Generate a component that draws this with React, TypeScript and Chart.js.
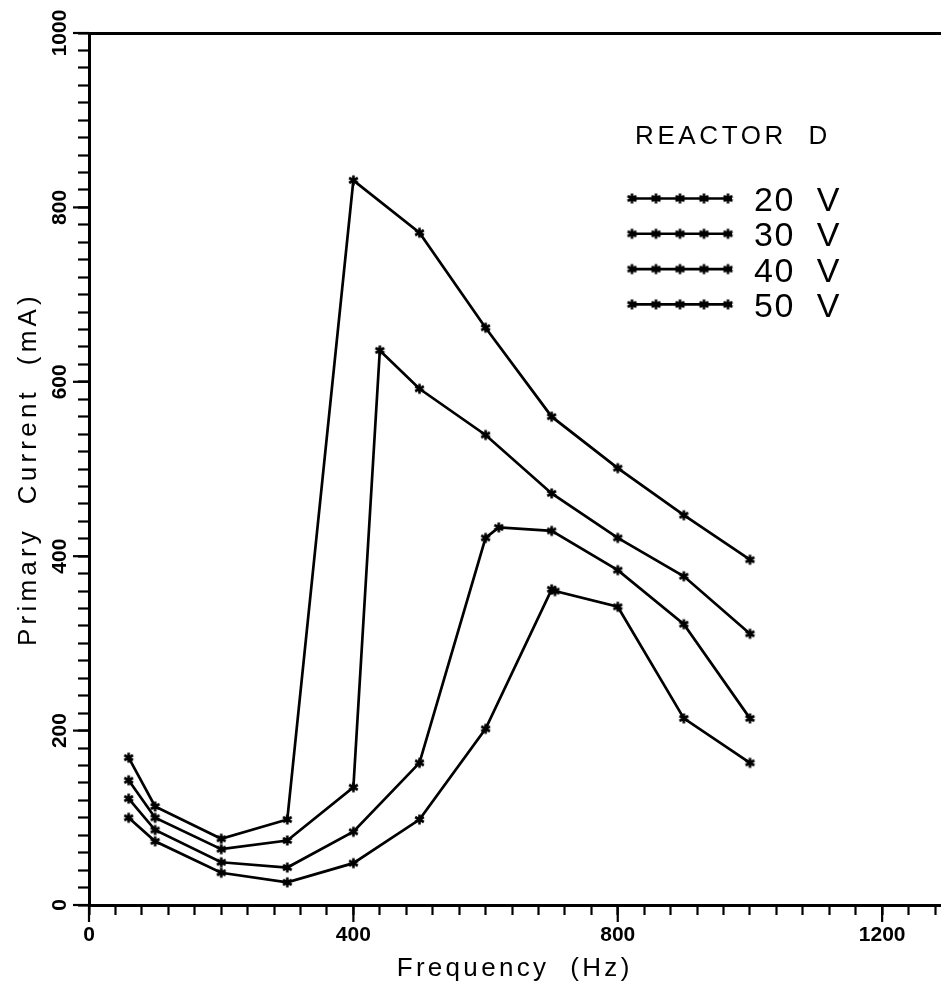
import React, { useEffect, useRef } from 'react';
import { Chart, registerables } from 'chart.js';

Chart.register(...registerables);

// ---- data ----
const freq20 = [60, 100, 200, 300, 400, 500, 600, 700, 705, 800, 900, 1000];
const current20 = [100, 73, 37, 26, 48, 98, 202, 362, 360, 342, 214, 163];
const freq30 = [60, 100, 200, 300, 400, 500, 600, 620, 700, 800, 900, 1000];
const current30 = [122, 86, 49, 43, 84, 163, 421, 433, 429, 384, 322, 214];
const freq40 = [60, 100, 200, 300, 400, 440, 500, 600, 700, 800, 900, 1000];
const current40 = [143, 100, 64, 74, 135, 636, 592, 539, 472, 421, 377, 311];
const freq50 = [60, 100, 200, 300, 400, 500, 600, 700, 800, 900, 1000];
const current50 = [169, 113, 76, 98, 831, 771, 662, 560, 501, 447, 396];

const seriesLabels = ['20  V', '30  V', '40  V', '50  V'];
const legendTitle = 'REACTOR  D';
const xTitle = 'Frequency  (Hz)';
const yTitle = 'Primary  Current  (mA)';
const xMajorTicks = [0, 400, 800, 1200];
const yMajorTicks = [0, 200, 400, 600, 800, 1000];
const X_MIN = 0;
const X_MAX = 1288;
const X_MINOR_STEP = 40;
const Y_MIN = 0;
const Y_MAX = 1000;
const Y_MINOR_STEP = 20;

const FONT = '"Liberation Sans", Arial, Helvetica, sans-serif';

function makeStar(): HTMLCanvasElement {
  const c = document.createElement('canvas');
  c.width = 13;
  c.height = 13;
  const g = c.getContext('2d')!;
  g.strokeStyle = '#000';
  g.lineWidth = 2.6;
  g.lineCap = 'butt';
  const r = 5;
  const m = 6.5;
  for (let k = 0; k < 3; k++) {
    const a = Math.PI / 2 + (k * Math.PI) / 3;
    g.beginPath();
    g.moveTo(m + r * Math.cos(a), m + r * Math.sin(a));
    g.lineTo(m - r * Math.cos(a), m - r * Math.sin(a));
    g.stroke();
  }
  g.beginPath();
  g.arc(m, m, 2.6, 0, Math.PI * 2);
  g.fillStyle = '#000';
  g.fill();
  return c;
}

function stepTicks(min: number, max: number, step: number) {
  const out: { value: number }[] = [];
  for (let v = min; v <= max + 1e-9; v += step) out.push({ value: v });
  return out;
}

function patchTitle(scale: any, spacing: string) {
  if (!scale || scale.__lsPatched) return;
  const orig = scale.drawTitle.bind(scale);
  scale.drawTitle = () => {
    const ctx = scale.ctx as any;
    const prev = ctx.letterSpacing;
    ctx.letterSpacing = spacing;
    orig();
    ctx.letterSpacing = prev;
  };
  scale.__lsPatched = true;
}

export default function App() {
  const ref = useRef<HTMLCanvasElement | null>(null);

  useEffect(() => {
    document.body.style.margin = '0';
    const canvas = ref.current;
    if (!canvas) return;
    const star = makeStar();

    const mk = (xs: number[], ys: number[], label: string) => ({
      label,
      data: xs.map((x, i) => ({ x, y: ys[i] })),
      borderColor: '#000',
      backgroundColor: '#000',
      borderWidth: 2.7,
      pointStyle: star as any,
      pointRadius: 5,
      pointHoverRadius: 5,
      tension: 0,
      fill: false,
    });

    const plotter = {
      id: 'plotter',
      beforeDraw(chart: any) {
        patchTitle(chart.scales.x, '3.3px');
        patchTitle(chart.scales.y, '4.2px');
      },
      afterDraw(chart: any) {
        const ctx = chart.ctx as CanvasRenderingContext2D;
        const xs = chart.scales.x;
        const ys = chart.scales.y;
        ctx.save();
        ctx.strokeStyle = '#000';
        ctx.fillStyle = '#000';
        // longer major tick marks
        ctx.lineWidth = 2.2;
        xMajorTicks.forEach((v) => {
          const px = xs.getPixelForValue(v);
          ctx.beginPath();
          ctx.moveTo(px, xs.top);
          ctx.lineTo(px, xs.top + 17);
          ctx.stroke();
        });
        yMajorTicks.forEach((v) => {
          const py = ys.getPixelForValue(v);
          ctx.beginPath();
          ctx.moveTo(ys.right - 16, py);
          ctx.lineTo(ys.right, py);
          ctx.stroke();
        });

        // legend
        ctx.font = `26px ${FONT}`;
        ctx.textBaseline = 'alphabetic';
        ctx.textAlign = 'left';
        (ctx as any).letterSpacing = '3.6px';
        ctx.fillText(legendTitle, 635, 144);
        (ctx as any).letterSpacing = '1.5px';
        ctx.font = `34px ${FONT}`;
        chart.data.datasets.forEach((ds: any, i: number) => {
          const y = 198.5 + i * 35.3;
          ctx.lineWidth = 2.6;
          ctx.beginPath();
          ctx.moveTo(630, y);
          ctx.lineTo(732, y);
          ctx.stroke();
          for (let k = 0; k < 5; k++) {
            ctx.drawImage(star, 632 + k * 24 - 6.5, y - 6.5);
          }
          ctx.fillText(ds.label, 754, y + 12.4);
        });
        ctx.restore();
      },
    };

    const chart = new Chart(canvas, {
      type: 'line',
      data: {
        datasets: [
          mk(freq20, current20, seriesLabels[0]),
          mk(freq30, current30, seriesLabels[1]),
          mk(freq40, current40, seriesLabels[2]),
          mk(freq50, current50, seriesLabels[3]),
        ],
      },
      options: {
        animation: false,
        responsive: false,
        devicePixelRatio: 1,
        maintainAspectRatio: false,
        layout: { padding: { top: 33, left: 0, right: 0, bottom: 0 } },
        plugins: {
          legend: { display: false },
          tooltip: { enabled: false },
        },
        scales: {
          x: {
            type: 'linear',
            position: 'bottom',
            min: X_MIN,
            max: X_MAX,
            afterBuildTicks: (s: any) => {
              s.ticks = stepTicks(X_MIN, X_MAX, X_MINOR_STEP);
            },
            afterFit: (s: any) => {
              s.height = 84;
              s.paddingLeft = 0;
              s.paddingRight = 0;
            },
            ticks: {
              autoSkip: false,
              maxRotation: 0,
              minRotation: 0,
              padding: 8,
              color: '#000',
              font: { family: FONT, size: 21, weight: 'bold' },
              callback: (v: any) => (xMajorTicks.includes(Number(v)) ? String(v) : ''),
            },
            grid: {
              drawOnChartArea: false,
              drawTicks: true,
              tickLength: 10,
              tickWidth: 2.2,
              tickColor: '#000',
              color: '#000',
            },
            border: { display: true, color: '#000', width: 3 },
            title: {
              display: true,
              text: xTitle,
              color: '#000',
              font: { family: FONT, size: 26, weight: 'normal' },
              padding: { top: 0, bottom: 5 },
            },
          },
          xTop: {
            type: 'linear',
            position: 'top',
            min: X_MIN,
            max: X_MAX,
            afterFit: (s: any) => {
              s.height = 0;
              s.paddingLeft = 0;
              s.paddingRight = 0;
            },
            ticks: { display: false },
            grid: { display: false, drawTicks: false },
            border: { display: true, color: '#000', width: 3 },
          },
          y: {
            type: 'linear',
            position: 'left',
            min: Y_MIN,
            max: Y_MAX,
            afterBuildTicks: (s: any) => {
              s.ticks = stepTicks(Y_MIN, Y_MAX, Y_MINOR_STEP);
            },
            afterFit: (s: any) => {
              s.width = 89;
              s.paddingTop = 0;
              s.paddingBottom = 0;
            },
            ticks: {
              autoSkip: false,
              minRotation: 90,
              maxRotation: 90,
              crossAlign: 'center',
              padding: -6,
              color: '#000',
              font: { family: FONT, size: 21, weight: 'bold' },
              callback: (v: any) => (yMajorTicks.includes(Number(v)) ? String(v) : ''),
            },
            grid: {
              drawOnChartArea: false,
              drawTicks: true,
              tickLength: 11,
              tickWidth: 2.2,
              tickColor: '#000',
              color: '#000',
            },
            border: { display: true, color: '#000', width: 3 },
            title: {
              display: true,
              text: yTitle,
              color: '#000',
              font: { family: FONT, size: 26, weight: 'normal' },
              padding: { top: 13, bottom: 0 },
            },
          },
        },
      },
      plugins: [plotter],
    } as any);

    return () => {
      chart.destroy();
    };
  }, []);

  return (
    <canvas
      ref={ref}
      width={948}
      height={989}
      style={{ display: 'block', width: '948px', height: '989px', background: '#fff' }}
    />
  );
}
